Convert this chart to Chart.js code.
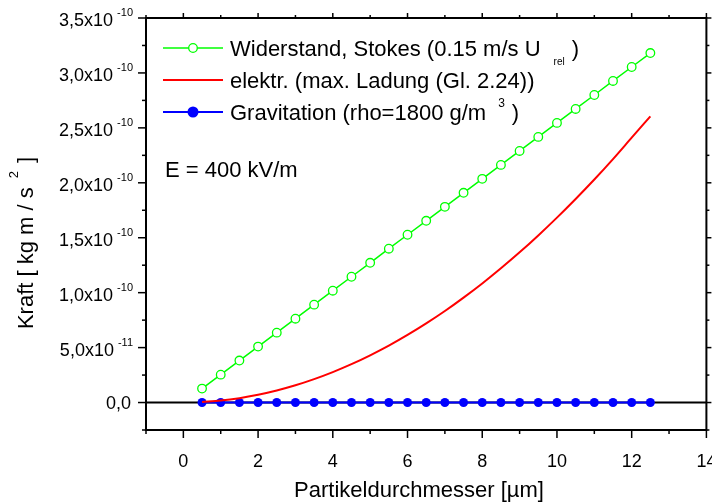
<!DOCTYPE html>
<html>
<head>
<meta charset="utf-8">
<script src="https://cdn.jsdelivr.net/npm/chart.js@4.4.1/dist/chart.umd.min.js"></script>
<style>
  body { margin: 0; background: #fff; }
  #wrap { width: 712px; height: 504px; }
</style>
</head>
<body>
<div id="wrap"><canvas id="forceChart" width="712" height="504"></canvas></div>
<script>
// Partikeldurchmesser in µm
const diameters = [0.5, 1, 1.5, 2, 2.5, 3, 3.5, 4, 4.5, 5, 5.5, 6, 6.5, 7, 7.5, 8, 8.5, 9, 9.5, 10, 10.5, 11, 11.5, 12, 12.5];

// Kraft in kg m / s^2
const stokesForce = [1.27e-11, 2.54e-11, 3.82e-11, 5.09e-11, 6.36e-11, 7.63e-11, 8.91e-11, 1.018e-10, 1.145e-10, 1.272e-10,
  1.40e-10, 1.527e-10, 1.654e-10, 1.781e-10, 1.909e-10, 2.036e-10, 2.163e-10, 2.29e-10, 2.418e-10, 2.545e-10,
  2.672e-10, 2.799e-10, 2.927e-10, 3.054e-10, 3.181e-10];
const elektrForce = [0.05e-11, 0.18e-11, 0.40e-11, 0.71e-11, 1.10e-11, 1.57e-11, 2.13e-11, 2.77e-11, 3.49e-11, 4.30e-11,
  5.18e-11, 6.15e-11, 7.20e-11, 8.33e-11, 9.55e-11, 10.84e-11, 12.22e-11, 13.67e-11, 15.21e-11, 16.83e-11,
  18.53e-11, 20.30e-11, 22.16e-11, 24.11e-11, 26.05e-11];
const gravForce = [0, 0, 0, 0, 0, 0, 0, 0, 0, 0, 0, 0, 0, 0, 0, 0, 0, 0, 0, 0, 0, 0, 0, 0, 0];

// axis ticks
const xMajorTicks = [0, 2, 4, 6, 8, 10, 12, 14];
const xMinorTicks = [-1, 1, 3, 5, 7, 9, 11, 13];
const xTickLabels = ['0', '2', '4', '6', '8', '10', '12', '14'];
const yMajorTicks = [0, 5e-11, 1e-10, 1.5e-10, 2e-10, 2.5e-10, 3e-10, 3.5e-10];
const yMinorTicks = [-2.5e-11, 2.5e-11, 7.5e-11, 1.25e-10, 1.75e-10, 2.25e-10, 2.75e-10, 3.25e-10];
const yTickMantissa = ['0,0', '5,0x10', '1,0x10', '1,5x10', '2,0x10', '2,5x10', '3,0x10', '3,5x10'];
const yTickExponent = ['', '-11', '-10', '-10', '-10', '-10', '-10', '-10'];

const FONT = "'Liberation Sans', Arial, sans-serif";

function toPoints(xs, ys) {
    return xs.map((x, i) => ({ x: x, y: ys[i] }));
}

// text with a raised or lowered small part, drawn left to right
function drawRich(ctx, parts, x, y) {
    let cx = x;
    parts.forEach(p => {
        cx += p.gap || 0;
        ctx.font = p.size + 'px ' + FONT;
        ctx.fillText(p.text, cx, y + (p.dy || 0));
        cx += ctx.measureText(p.text).width;
    });
    return cx;
}

function richWidth(ctx, parts) {
    let w = 0;
    parts.forEach(p => {
        ctx.font = p.size + 'px ' + FONT;
        w += (p.gap || 0) + ctx.measureText(p.text).width;
    });
    return w;
}

const legendRows = [
    { ds: 0, parts: [{ text: 'Widerstand, Stokes (0.15 m/s U', size: 22 }, { text: 'rel', size: 10, dy: 9, gap: 13 }, { text: ')', size: 22, gap: 7 }] },
    { ds: 1, parts: [{ text: 'elektr. (max. Ladung (Gl. 2.24))', size: 22 }] },
    { ds: 2, parts: [{ text: 'Gravitation (rho=1800 g/m', size: 22 }, { text: '3', size: 12, dy: -13, gap: 12 }, { text: ')', size: 22, gap: 7 }] }
];

const framePlugin = {
    id: 'originFrame',
    beforeDatasetsDraw(chart) {
        const ctx = chart.ctx;
        const area = chart.chartArea;
        const y0 = chart.scales.y.getPixelForValue(0);
        ctx.save();
        ctx.strokeStyle = '#000';
        ctx.lineWidth = 2;
        ctx.beginPath();
        ctx.moveTo(area.left, y0);
        ctx.lineTo(area.right, y0);
        ctx.stroke();
        ctx.restore();
    },
    afterDatasetsDraw(chart) {
        const ctx = chart.ctx;
        const area = chart.chartArea;
        const xs = chart.scales.x;
        const ys = chart.scales.y;
        ctx.save();
        ctx.strokeStyle = '#000';
        ctx.fillStyle = '#000';
        ctx.lineWidth = 2;
        ctx.strokeRect(area.left, area.top, area.right - area.left, area.bottom - area.top);

        // tick marks on all four sides, pointing outward
        ctx.lineWidth = 1.5;
        const tick = (x1, y1, x2, y2) => { ctx.beginPath(); ctx.moveTo(x1, y1); ctx.lineTo(x2, y2); ctx.stroke(); };
        xMajorTicks.forEach(v => {
            const px = xs.getPixelForValue(v);
            tick(px, area.bottom, px, area.bottom + 8);
            tick(px, area.top, px, area.top - 5);
        });
        xMinorTicks.forEach(v => {
            const px = xs.getPixelForValue(v);
            tick(px, area.bottom, px, area.bottom + 4);
            tick(px, area.top, px, area.top - 3);
        });
        yMajorTicks.forEach(v => {
            const py = ys.getPixelForValue(v);
            tick(area.left - 8, py, area.left, py);
            tick(area.right, py, area.right + 5, py);
        });
        yMinorTicks.forEach(v => {
            const py = ys.getPixelForValue(v);
            tick(area.left - 4, py, area.left, py);
            tick(area.right, py, area.right + 3, py);
        });

        // x tick labels
        ctx.font = '18px ' + FONT;
        ctx.textAlign = 'center';
        ctx.textBaseline = 'alphabetic';
        xMajorTicks.forEach((v, i) => {
            ctx.fillText(xTickLabels[i], xs.getPixelForValue(v), area.bottom + 37);
        });

        // y tick labels with exponent
        ctx.textAlign = 'left';
        const rightEdge = area.left - 13;
        yMajorTicks.forEach((v, i) => {
            const py = ys.getPixelForValue(v);
            if (yTickExponent[i]) {
                const parts = [{ text: yTickMantissa[i], size: 18 }, { text: yTickExponent[i], size: 11, dy: -10, gap: 4 }];
                drawRich(ctx, parts, rightEdge - richWidth(ctx, parts), py + 8);
            } else {
                ctx.font = '18px ' + FONT;
                ctx.fillText(yTickMantissa[i], rightEdge - 2 - ctx.measureText(yTickMantissa[i]).width, py + 6.5);
            }
        });

        // axis titles
        ctx.font = '22px ' + FONT;
        ctx.textAlign = 'center';
        ctx.fillText('Partikeldurchmesser [µm]', 419, 497);

        const yTitle = [{ text: 'Kraft [ kg m / s', size: 22 }, { text: '2', size: 13, dy: -15, gap: 9 }, { text: ']', size: 22, gap: 8 }];
        ctx.textAlign = 'left';
        ctx.save();
        ctx.translate(33, 243);
        ctx.rotate(-Math.PI / 2);
        drawRich(ctx, yTitle, -richWidth(ctx, yTitle) / 2, 0);
        ctx.restore();

        // legend inside the plot
        legendRows.forEach((row, i) => {
            const ds = chart.data.datasets[row.ds];
            const cy = 48 + i * 32;
            ctx.strokeStyle = ds.borderColor;
            ctx.lineWidth = ds.borderWidth;
            tick(163, cy, 223, cy);
            if (ds.pointRadius > 0) {
                ctx.beginPath();
                ctx.arc(193, cy, ds.pointRadius, 0, Math.PI * 2);
                ctx.fillStyle = ds.pointBackgroundColor;
                ctx.fill();
                ctx.lineWidth = ds.pointBorderWidth;
                ctx.stroke();
            }
            ctx.fillStyle = '#000';
            drawRich(ctx, row.parts, 230, cy + 8);
        });

        ctx.font = '22px ' + FONT;
        ctx.fillText('E = 400 kV/m', 165, 177);
        ctx.restore();
    }
};

new Chart(document.getElementById('forceChart'), {
    type: 'line',
    data: {
        datasets: [
            {
                label: 'Widerstand, Stokes',
                data: toPoints(diameters, stokesForce),
                borderColor: '#00ff00',
                borderWidth: 1.5,
                pointRadius: 4.3,
                pointBackgroundColor: '#ffffff',
                pointBorderColor: '#00ff00',
                pointBorderWidth: 1.3,
                tension: 0
            },
            {
                label: 'elektr.',
                data: toPoints(diameters, elektrForce),
                borderColor: '#ff0000',
                borderWidth: 2,
                pointRadius: 0,
                cubicInterpolationMode: 'monotone'
            },
            {
                label: 'Gravitation',
                data: toPoints(diameters, gravForce),
                borderColor: '#0000ff',
                borderWidth: 2,
                pointRadius: 4.5,
                pointBackgroundColor: '#0000ff',
                pointBorderColor: '#0000ff',
                pointBorderWidth: 0
            }
        ]
    },
    options: {
        responsive: false,
        animation: false,
        devicePixelRatio: 1,
        layout: { padding: { left: 146, right: 5, top: 18, bottom: 74 } },
        plugins: { legend: { display: false }, tooltip: { enabled: false } },
        scales: {
            x: { type: 'linear', min: -1, max: 14, display: false },
            y: { type: 'linear', min: -2.5e-11, max: 3.5e-10, display: false }
        }
    },
    plugins: [framePlugin]
});
</script>
</body>
</html>
